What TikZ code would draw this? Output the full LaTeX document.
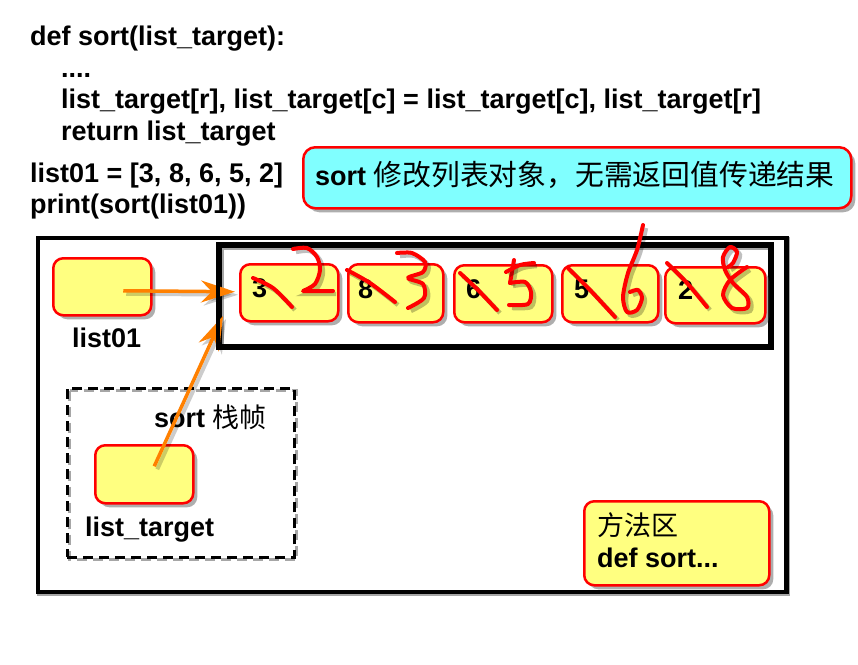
\documentclass[tikz,border=0pt]{standalone}
\usepackage{fontspec}
\setmainfont{Liberation Sans}
\newfontfamily\cjk{Noto Sans CJK SC}
\usetikzlibrary{shadows,arrows.meta,calc}
\definecolor{yfill}{RGB}{255,255,128}
\definecolor{cfill}{RGB}{128,255,255}
\definecolor{arrorange}{RGB}{255,128,0}
\begin{document}
\begin{tikzpicture}[x=1pt,y=-1pt,
  big/.style={font=\fontsize{27}{32}\selectfont\bfseries},
  txt/.style={inner sep=0pt, anchor=base west, big},
  shad/.style={drop shadow={opacity=0.45, fill=black!70, shadow xshift=4pt, shadow yshift=-4pt}},
  ybox/.style={draw=red, line width=2.5pt, fill=yfill, rounded corners=10pt, inner sep=0pt, anchor=north west, shad},
  cbox/.style={draw=red, line width=2.5pt, fill=cfill, rounded corners=12pt, inner sep=0pt, anchor=north west, shad},
  frame/.style={draw=black, line width=4.5pt, inner sep=0pt, anchor=north west},
  fshadow/.style={draw=black!35, line width=4.5pt},
  arr/.style={draw=arrorange, line width=3.5pt, -{Stealth[length=34pt,width=22pt,inset=11pt]},
    preaction={draw=black, opacity=0.2, line width=4pt, transform canvas={xshift=3pt,yshift=-3pt}}},
  hand/.style={draw=red, line width=4pt, line cap=round, line join=round,
    preaction={draw=black, opacity=0.25, line width=4.4pt, transform canvas={xshift=3pt,yshift=-3pt}}},
  numtxt/.style={inner sep=0pt, anchor=base west, big}
]
\useasboundingbox (0,0) rectangle (858,664);
\fill[white] (0,0) rectangle (858,664);

% code
\node[txt] (c1) at (30,45) {def sort(list\_target):};
\node[txt] (c2) at (61,77) {....};
\node[txt] (c3) at (61,108) {list\_target[r], list\_target[c] = list\_target[c], list\_target[r]};
\node[txt] (c4) at (61,140) {return list\_target};
\node[txt] (c5) at (30,182) {list01 = [3, 8, 6, 5, 2]};
\node[txt] (c6) at (30,213) {print(sort(list01))};

% callout
\node[cbox, minimum width=548pt, minimum height=61pt] (call) at (302,146) {};
\node[txt] (callt) at (315,185) {sort {\mdseries\cjk\fontsize{28.8}{32}\selectfont 修改列表对象，无需返回值传递结果}};

% outer frame
\draw[fshadow] (39.5,239.5) rectangle (788,593.5);
\node[frame, fill=white, minimum width=748.5pt, minimum height=354pt] (outer) at (35.5,235.5) {};

% list01
\node[ybox, minimum width=98pt, minimum height=57pt] (l01) at (52,257) {};
\node[txt] (l01t) at (72,347) {list01};

% stack frame
\draw[fshadow, line width=3.5pt, dash pattern=on 10pt off 6pt] (69.5,390.5) rectangle (296.5,559.5);
\node[frame, line width=3.5pt, dash pattern=on 10pt off 6pt, minimum width=227pt, minimum height=169pt] (stack) at (65.5,386.5) {};
\node[txt] (stackt) at (154,427) {sort {\mdseries\cjk 栈帧}};
\node[ybox, minimum width=98pt, minimum height=58pt] (lt) at (94,444) {};
\node[txt] (ltt) at (85,536) {list\_target};

% method area
\node[ybox, minimum width=185pt, minimum height=84pt] (meth) at (583,500) {};
\node[txt] (metht1) at (597,535) {\mdseries\cjk 方法区};
\node[txt] (metht2) at (597,567) {def sort...};

% connector end points
\coordinate (s1) at ($(l01.center)+(21,4)$);
\coordinate (s2) at ($(lt.center)+(10,-8)$);
\coordinate (t2) at (223,316);

% list frame (shadow)
\draw[fshadow, line width=4pt] (221.5,248) rectangle (771.5,348);
\node[frame, line width=4pt, minimum width=550pt, minimum height=100pt] (inner) at (217.5,244) {};

% element boxes
\node[ybox, minimum width=98pt, minimum height=57pt] (b1) at (239,263) {};
\node[ybox, minimum width=95pt, minimum height=58pt] (b2) at (347,263) {};
\node[ybox, minimum width=98pt, minimum height=57pt] (b3) at (453,264) {};
\node[ybox, minimum width=96pt, minimum height=57pt] (b4) at (561,264) {};
\node[ybox, minimum width=100pt, minimum height=56pt] (b5) at (664,266) {};
\coordinate (t1) at ($(b1.west)+(-4,-1)$);

\draw[arr] (s1) -- (t1);
\draw[arr] (s2) -- (t2);
\draw[line width=4pt] (inner.north west) rectangle (inner.south east);

\node[numtxt] (n1) at (252,297) {3};
\node[numtxt] (n2) at (358,298) {8};
\node[numtxt] (n3) at (466,298) {6};
\node[numtxt] (n4) at (574,298) {5};
\node[numtxt] (n5) at (678,299) {2};

% handwriting
\draw[hand] plot[smooth] coordinates {(253,278) (273,288) (292,307)};
\draw[hand] plot[smooth] coordinates {(293,249) (307,248) (317,257) (320,270) (315,284) (303,291)} -- (333,291);
\draw[hand] plot[smooth] coordinates {(347,270) (370,283) (395,302)};
\draw[hand] plot[smooth] coordinates {(397,253) (412,253) (425,262) (423,272) (408,278) (423,284) (424,298) (408,308)};
\draw[hand] plot[smooth] coordinates {(460,273) (478,290) (497,310)};
\draw[hand] (514,260) -- (510,283);
\draw[hand] plot[smooth] coordinates {(510,283) (525,282) (531,292) (528,304) (509,305)};
\draw[hand] plot[smooth] coordinates {(506,272) (520,265) (534,263)};
\draw[hand] plot[smooth] coordinates {(568,268) (590,290) (615,317)};
\draw[hand] plot[smooth] coordinates {(643,225) (637,250) (628,273) (623,297) (627,312) (637,310) (642,298) (638,290) (630,292)};
\draw[hand] plot[smooth] coordinates {(667,263) (687,283) (707,307)};
\draw[hand] plot[smooth] coordinates {(747,267) (730,280) (723,295) (732,308) (747,308) (747,297) (733,283) (725,270) (723,257) (730,247) (737,252) (733,263) (728,267)};
\end{tikzpicture}
\end{document}
